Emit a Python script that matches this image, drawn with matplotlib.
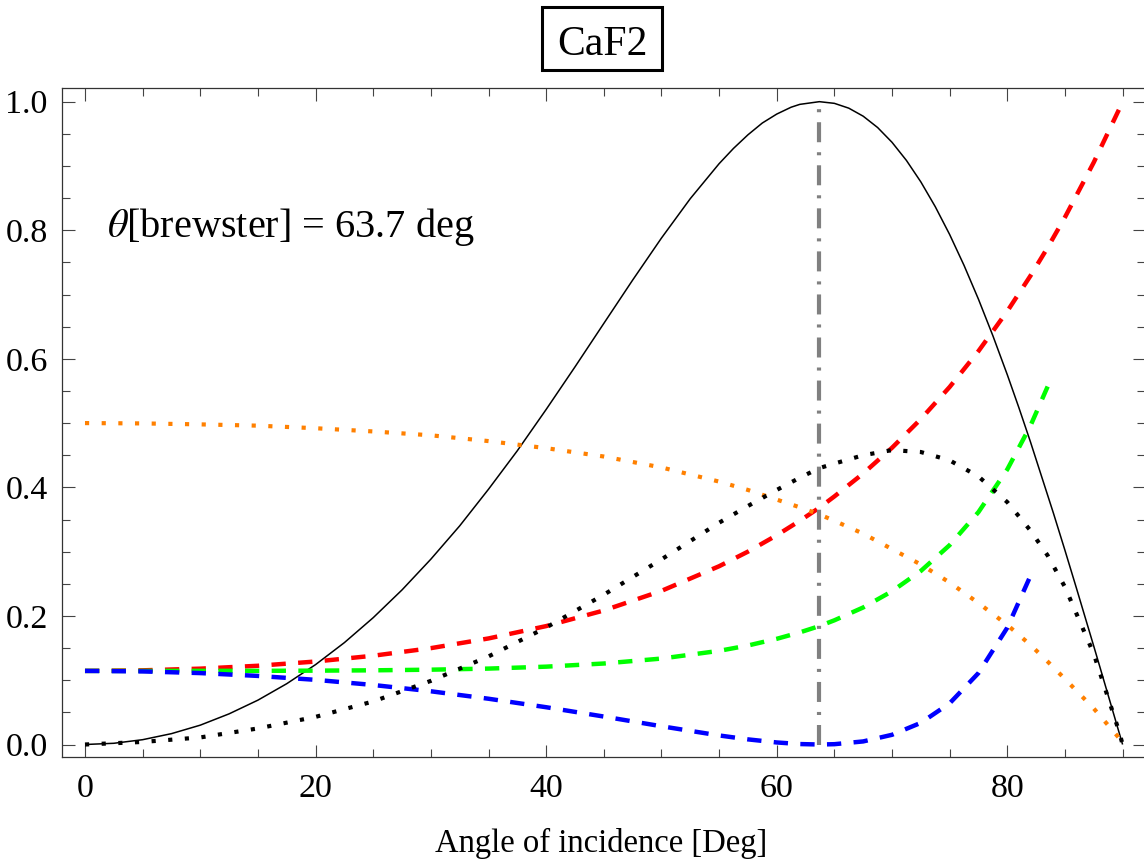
import matplotlib
matplotlib.use("Agg")
import matplotlib.pyplot as plt
from matplotlib.ticker import FixedLocator, MultipleLocator
from matplotlib.patches import Rectangle

# ---------------- data ----------------
angle = [0, 5, 10, 15, 20, 25, 30, 35, 40, 45, 50, 55, 57.5, 60, 62, 63.7,
         65, 67.5, 70, 72.5, 75, 77.5, 80, 82, 83.5, 85, 87.5, 89.7, 90]

# black solid curve (sampled more finely, it is thin and strongly curved)
polar_angle = [0, 2.5, 5, 7.5, 10, 12.5, 15, 17.5, 20, 22.5, 25, 27.5, 30,
               32.5, 35, 37.5, 40, 42.5, 45, 47.5, 50, 52.5, 55, 56.25, 57.5,
               58.75, 60, 61.25, 62, 63.7, 65, 66.25, 67.5, 68.75, 70, 71.25,
               72.5, 73.75, 75, 76.25, 77.5, 78.75, 80, 81, 82, 84, 85, 86,
               87.5, 88, 89, 89.7, 90]
polarization = [0, 0.0019, 0.0075, 0.0169, 0.0301, 0.0477, 0.0690, 0.0946,
                0.1243, 0.1585, 0.1973, 0.2405, 0.2883, 0.3401, 0.3971,
                0.4570, 0.5212, 0.5874, 0.6550, 0.7224, 0.7878, 0.8491,
                0.9035, 0.9273, 0.9484, 0.9668, 0.9807, 0.9914, 0.9958, 1.0,
                0.9974, 0.9899, 0.9774, 0.9598, 0.9368, 0.9086, 0.8752,
                0.8367, 0.7933, 0.7452, 0.6926, 0.6358, 0.5752, 0.5242,
                0.4712, 0.3599, 0.3021, 0.2430, 0.1529, 0.1225, 0.0613,
                0.0184, 0.0]
# red dashed (ends at 89.7 deg)
r_s = [0.1145, 0.1154, 0.1180, 0.1225, 0.1291, 0.1381, 0.1499, 0.1650,
       0.1842, 0.2085, 0.2390, 0.2773, 0.3000, 0.3255, 0.3480, 0.3684,
       0.3859, 0.4216, 0.4616, 0.5063, 0.5562, 0.6120, 0.6741, 0.7289,
       0.7731, 0.8202, 0.9056, 0.9882]
# green dashed (ends at 83.5 deg)
r_avg = [0.1145, 0.1145, 0.1146, 0.1146, 0.1149, 0.1154, 0.1164, 0.1181,
         0.1211, 0.1260, 0.1337, 0.1457, 0.1540, 0.1644, 0.1744, 0.1842,
         0.1932, 0.2132, 0.2384, 0.2700, 0.3102, 0.3616, 0.4280, 0.4955,
         0.5569]
# blue dashed (ends at 82 deg)
r_p = [0.1145, 0.1137, 0.1111, 0.1067, 0.1006, 0.0926, 0.0828, 0.0712,
       0.0580, 0.0435, 0.0284, 0.0141, 0.0080, 0.0032, 0.0007, 0.0,
       0.0005, 0.0048, 0.0151, 0.0337, 0.0641, 0.1112, 0.1818, 0.2620]
# orange dotted
orange_curve = [0.500, 0.4995, 0.498, 0.496, 0.492, 0.487, 0.481, 0.472,
                0.461, 0.448, 0.431, 0.409, 0.396, 0.381, 0.369, 0.358,
                0.348, 0.328, 0.304, 0.280, 0.252, 0.220, 0.186, 0.155,
                0.129, 0.102, 0.056, 0.010, 0.0]
# black dotted
black_dotted = [0, 0.004, 0.011, 0.025, 0.043, 0.067, 0.099, 0.137, 0.182,
                0.233, 0.288, 0.345, 0.371, 0.396, 0.415, 0.430, 0.437,
                0.450, 0.458, 0.455, 0.442, 0.417, 0.377, 0.333, 0.294,
                0.245, 0.141, 0.020, 0.0]

brewster = 63.7
x_major = [0, 20, 40, 60, 80]
x_labels = ["0", "20", "40", "60", "80"]
y_major = [0.0, 0.2, 0.4, 0.6, 0.8, 1.0]
y_labels = ["0.0", "0.2", "0.4", "0.6", "0.8", "1.0"]
title_text = "CaF2"
xlabel_text = "Angle of incidence [Deg]"
annot_text = r"$\theta$[brewster] = 63.7 deg"

# ---------------- styling ----------------
plt.rcParams["font.family"] = ["Liberation Serif", "DejaVu Serif"]
plt.rcParams["mathtext.fontset"] = "stix"
plt.rcParams["lines.scale_dashes"] = False

W, H = 1144, 868
fig = plt.figure(figsize=(W / 100, H / 100), dpi=100)
ax_l, ax_r, ax_t, ax_b = 61.7, 1144.5, 88.3, 757.3
ax = fig.add_axes([ax_l / W, (H - ax_b) / H, (ax_r - ax_l) / W, (ax_b - ax_t) / H])

dash = (0, (10.3, 8.9))
dots = (0, (3.0, 9.0))

ax.plot(polar_angle, polarization, color="black", lw=1.1,
        solid_capstyle="butt", solid_joinstyle="round", zorder=3)
ax.plot(angle[:len(r_s)], r_s, color="#ff0000", lw=3.2, linestyle=dash,
        dash_capstyle="butt", zorder=3)
ax.plot(angle[:len(r_avg)], r_avg, color="#00ff00", lw=3.2, linestyle=dash,
        dash_capstyle="butt", zorder=3)
ax.plot(angle[:len(r_p)], r_p, color="#0000ff", lw=3.2, linestyle=dash,
        dash_capstyle="butt", zorder=3)
ax.plot(angle[:len(orange_curve)], orange_curve, color="#ff8000", lw=3.0,
        linestyle=dots, dash_capstyle="butt", zorder=3)
ax.plot(angle[:len(black_dotted)], black_dotted, color="black", lw=3.0,
        linestyle=dots, dash_capstyle="butt", zorder=3)
ax.plot([brewster, brewster], [0, 1], color="#808080", lw=3.0,
        linestyle=(0, (14.4, 7.2, 2.2, 7.2)), dash_capstyle="butt", zorder=4)

ax.set_xlim(-2.02, 91.9)
ax.set_ylim(-0.0199, 1.0208)

ax.xaxis.set_major_locator(FixedLocator(x_major))
ax.set_xticklabels(x_labels)
ax.xaxis.set_minor_locator(MultipleLocator(5))
ax.yaxis.set_major_locator(FixedLocator(y_major))
ax.set_yticklabels(y_labels)
ax.yaxis.set_minor_locator(MultipleLocator(0.05))

ax.tick_params(which="both", direction="in", top=True, right=True,
               color="#444444", labelcolor="black", width=0.8, labelsize=24.5)
ax.tick_params(which="major", length=9)
ax.tick_params(which="minor", length=5.5)
ax.tick_params(axis="x", which="major", pad=12)
ax.tick_params(axis="y", which="major", pad=10)

for sp in ax.spines.values():
    sp.set_color("#333333")
    sp.set_linewidth(0.9)

ax.text(1.88, 0.79, annot_text, fontsize=29, ha="left", va="baseline")

# title in a box
fig.patches.append(Rectangle((542 / W, 1 - 70 / H), 120 / W, 63 / H,
                             transform=fig.transFigure, fill=False,
                             ec="black", lw=2.2))
fig.text(602 / W, 1 - 55 / H, title_text, fontsize=30, ha="center",
         va="baseline")

fig.text(601.5 / W, 1 - 852 / H, xlabel_text, fontsize=23.5, ha="center",
         va="baseline")

fig.savefig("out.png", dpi=100)
